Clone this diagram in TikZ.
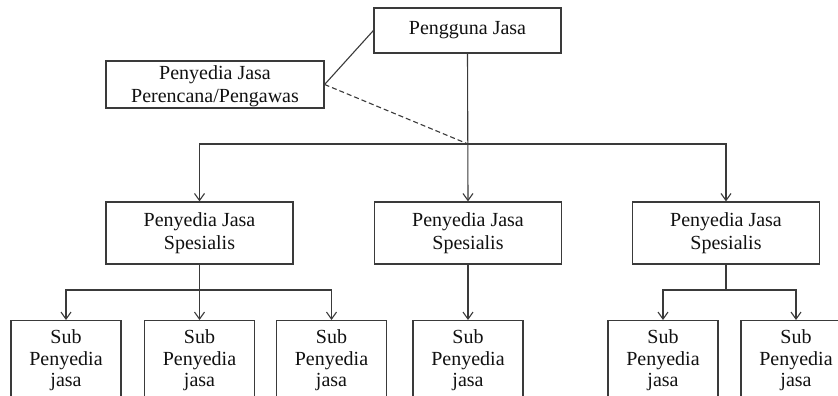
\documentclass[tikz,border=0pt]{standalone}
\usepackage{fontspec}
\setmainfont{Liberation Serif}
\usetikzlibrary{arrows.meta}
\definecolor{ln}{HTML}{3A3A3A}
\definecolor{tx}{HTML}{111111}
\tikzset{
  box/.style={draw=ln, line width=1.2pt, text=tx, align=center, inner sep=0pt},
  topbox/.style={box, font=\fontsize{20}{23}\selectfont},
  specbox/.style={box, minimum width=187pt, minimum height=62pt, font=\fontsize{20}{23}\selectfont},
  subbox/.style={box, minimum width=110pt, minimum height=80pt, font=\fontsize{20}{21.5}\selectfont},
  conn/.style={draw=ln, line width=1.1pt},
  arr/.style={conn, -{Straight Barb[length=7pt,width=10pt]}},
  dsh/.style={conn, dash pattern=on 5pt off 3pt}
}
\begin{document}
\begin{tikzpicture}[x=1pt, y=-1pt]
\useasboundingbox (0,0) rectangle (838,396);
\clip (0,0) rectangle (838,396);
\fill[white] (0,0) rectangle (838,396);
% top level
\node[topbox, minimum width=187pt, minimum height=45pt] (pg) at (467.5,30.5) {Pengguna Jasa};
\node[topbox, minimum width=218pt, minimum height=47pt, text depth=0pt] (pp) at (215,84.5) {Penyedia Jasa\\Perencana/Pengawas};
% specialist level
\node[specbox] (s1) at (199.5,233) {Penyedia Jasa\\Spesialis};
\node[specbox] (s2) at (468,233) {Penyedia Jasa\\Spesialis};
\node[specbox] (s3) at (726,233) {Penyedia Jasa\\Spesialis};
% sub level
\node[subbox, anchor=north] (a) at (66,320) {Sub\\Penyedia\\jasa};
\node[subbox, anchor=north] (b) at (199.5,320) {Sub\\Penyedia\\jasa};
\node[subbox, anchor=north] (c) at (331.5,320) {Sub\\Penyedia\\jasa};
\node[subbox, anchor=north] (d) at (468,320) {Sub\\Penyedia\\jasa};
\node[subbox, anchor=north] (e) at (663,320) {Sub\\Penyedia\\jasa};
\node[subbox, anchor=north] (f) at (796,320) {Sub\\Penyedia\\jasa};
% junctions
\coordinate (j) at (468,144);
\coordinate (j1) at (199.5,290);
\coordinate (j3) at (726,290);
% connectors
\draw[conn] (pp.east) -- (pg.west);
\draw[dsh] (pp.east) -- (j);
\draw[arr] (pg.south) -- (s2.north);
\draw[arr] (j) -| (s1.north);
\draw[arr] (j) -| (s3.north);
\draw[arr] (s1.south) -- (b.north);
\draw[arr] (j1) -| (a.north);
\draw[arr] (j1) -| (c.north);
\draw[arr] (s2.south) -- (d.north);
\draw[conn] (s3.south) -- (j3);
\draw[arr] (j3) -| (e.north);
\draw[arr] (j3) -| (f.north);
\end{tikzpicture}
\end{document}
